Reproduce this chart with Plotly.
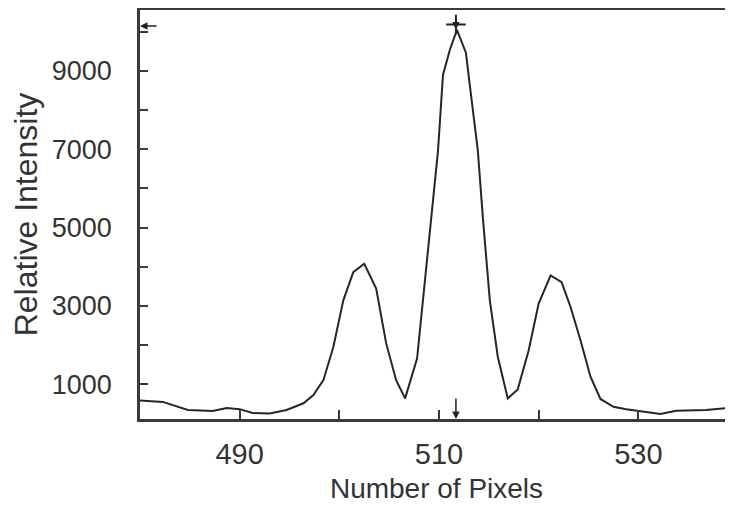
import plotly.graph_objects as go

# Intensity profile
pixels = [480.0, 482.3, 484.8, 487.3, 488.7, 490.0, 491.3, 493.0, 494.7, 496.4,
          497.4, 498.4, 499.4, 500.4, 501.4, 502.5, 503.7, 504.7, 505.7, 506.6,
          507.8, 508.8, 509.4, 509.9, 510.4, 511.1, 511.8, 512.7, 513.0, 513.9,
          514.4, 515.1, 515.9, 516.9, 517.9, 519.0, 520.0, 521.2, 522.3, 523.2,
          524.2, 525.2, 526.2, 527.5, 528.8, 530.8, 532.2, 533.8, 536.8, 539.5]
intensity = [580, 545, 338, 310, 390, 360, 260, 250, 340, 510,
             720, 1100, 1950, 3140, 3860, 4075, 3440, 2040, 1100, 635,
             1650, 4160, 5520, 6960, 8900, 9550, 10050, 9470, 8830, 6960,
             5260, 3140, 1700, 635, 865, 1866, 3056, 3777, 3606, 2970,
             2120, 1190, 620, 420, 355, 295, 235, 320, 340, 405]

x_tickvals = [490, 500, 510, 520, 530]
x_ticktext = ["490", "", "510", "", "530"]
y_tickvals = [1000, 2000, 3000, 4000, 5000, 6000, 7000, 8000, 9000, 10000]
y_ticktext = ["1000", "", "3000", "", "5000", "", "7000", "", "9000", ""]

peak_x = 511.7
x_range = [480, 539.5]
y_range = [108, 10560]

axis_col = "#3a3a3a"
font_col = "#333333"

fig = go.Figure()
fig.add_trace(go.Scatter(x=pixels, y=intensity, mode="lines",
                         line=dict(color="#262626", width=2), showlegend=False,
                         hoverinfo="skip"))
# crosshair marker at top of central peak
fig.add_trace(go.Scatter(x=[peak_x], y=[10190], mode="markers",
                         marker=dict(symbol="cross-thin", size=14,
                                     line=dict(color="#222222", width=2)),
                         showlegend=False, hoverinfo="skip"))

fig.add_annotation(x=peak_x, y=10060, ax=0, ay=-8, xref="x", yref="y",
                   showarrow=True, arrowhead=2, arrowsize=1, arrowwidth=1.5,
                   arrowcolor="#222222", text="")
fig.add_annotation(x=peak_x, y=y_range[0], ax=0, ay=-22, xref="x", yref="y",
                   showarrow=True, arrowhead=2, arrowsize=1, arrowwidth=1.5,
                   arrowcolor="#222222", text="")
fig.add_annotation(x=x_range[0], y=10150, ax=18, ay=0, xref="x", yref="y",
                   showarrow=True, arrowhead=2, arrowsize=1, arrowwidth=1.5,
                   arrowcolor="#222222", text="")

fig.update_layout(
    width=725, height=503,
    margin=dict(l=132, r=0, t=2, b=92),
    paper_bgcolor="white", plot_bgcolor="white",
    font=dict(family="Liberation Sans, Arial, sans-serif", color=font_col, size=27),
    xaxis=dict(range=x_range, tickvals=x_tickvals, ticktext=x_ticktext,
               ticks="inside", ticklen=9, tickwidth=1.5, tickcolor=axis_col,
               showline=True, linecolor=axis_col, linewidth=2.5, mirror=True,
               showgrid=False, zeroline=False, automargin=False,
               title=dict(text="Number of Pixels", font=dict(size=28), standoff=10),
               tickfont=dict(size=29), ticklabelstandoff=7),
    yaxis=dict(range=y_range, tickvals=y_tickvals, ticktext=y_ticktext,
               ticks="inside", ticklen=8, tickwidth=1.5, tickcolor=axis_col,
               showline=True, linecolor=axis_col, linewidth=2.5,
               showgrid=False, zeroline=False, automargin=False,
               title=dict(text="Relative Intensity", font=dict(size=32), standoff=13),
               tickfont=dict(size=27), ticklabelstandoff=20),
)

fig.write_html("out.html")
